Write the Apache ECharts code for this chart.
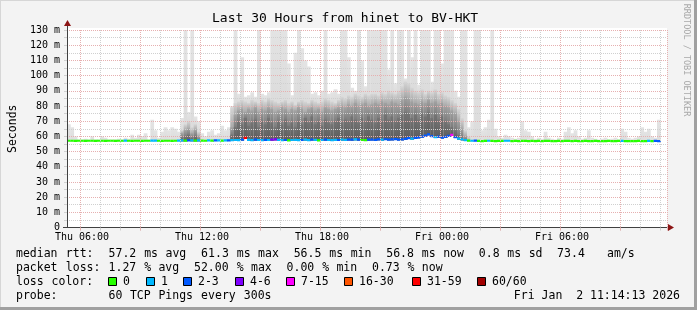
<!DOCTYPE html>
<html><head><meta charset="utf-8">
<script src="https://cdn.jsdelivr.net/npm/echarts@6/dist/echarts.min.js"></script>
<style>html,body{margin:0;padding:0;background:#f3f3f3}#c{width:697px;height:310px}</style>
</head><body><div id="c"></div>
<script>
// ---- time slots: 10-minute steps starting Thu 05:20 (180 slots = 30 h) ----
const slotStartMinutes = 5 * 60 + 20;
const slotMinutes = 10;
const slotCount = 180;

// ---- median RTT (ms) per slot ----
const medianMs = [
 57.1,57.1,57.0,57.1,57.1,57.0,57.1,57.1,57.0,57.1,
 57.1,57.0,57.1,57.1,57.0,57.1,57.1,57.2,57.1,57.0,
 57.1,57.1,57.0,57.1,57.1,57.2,57.2,57.1,57.0,57.1,
 57.1,57.0,57.1,57.2,57.3,57.2,57.4,57.3,57.2,57.3,
 57.2,57.1,57.3,57.2,57.4,57.3,57.2,57.3,57.4,57.5,
 57.6,57.5,57.8,59.0,57.7,57.5,57.8,57.6,57.5,57.7,
 57.6,57.8,58.0,57.7,57.5,57.6,57.4,57.6,57.7,57.5,
 57.6,57.8,57.5,57.9,57.7,57.4,57.6,57.8,57.6,57.5,
 57.7,57.6,57.8,57.7,57.9,57.8,58.0,57.8,57.6,57.5,
 57.8,57.9,57.7,58.0,57.8,58.1,57.9,58.0,58.2,57.9,
 58.0,58.3,58.8,58.5,59.0,59.3,59.8,60.5,61.3,60.2,
 59.5,59.8,59.2,59.6,60.3,61.0,59.4,58.5,58.0,57.5,
 57.2,57.1,57.2,57.0,56.9,57.0,57.1,57.0,56.9,57.0,
 57.0,57.1,57.1,56.9,57.0,56.9,57.0,57.0,56.9,57.0,
 56.9,57.0,56.9,57.0,57.0,56.9,56.9,57.0,56.9,57.0,
 57.0,56.9,57.0,56.9,56.9,57.0,56.9,56.9,57.0,56.9,
 56.9,56.9,57.0,56.9,56.9,57.0,57.0,56.9,56.9,56.9,
 56.9,57.0,56.9,56.9,57.0,56.9,57.0,56.8,null,null
];

// ---- lost pings (of 60) per slot ----
const lostPings = [
 0,0,0,0,0,0,0,0,0,0,
 0,0,0,0,0,0,0,1,0,0,
 0,0,0,0,0,1,1,0,0,0,
 0,0,0,1,1,0,2,1,0,1,
 0,0,1,0,2,1,0,1,2,1,
 1,1,2,31,1,1,2,1,1,2,
 1,4,5,1,1,2,0,1,1,1,
 2,1,1,3,1,0,1,2,1,1,
 1,2,1,1,2,3,1,2,0,0,
 2,2,2,2,1,2,3,2,2,2,
 2,3,2,1,2,2,3,2,2,2,
 1,2,2,3,2,8,2,1,1,1,
 0,1,2,0,0,0,1,0,0,0,
 0,1,1,0,0,0,0,0,0,0,
 0,0,0,0,0,0,0,0,0,0,
 0,0,0,0,0,0,0,0,0,0,
 0,0,0,0,0,0,1,0,0,0,
 0,0,0,0,1,0,2,2,null,null
];

// ---- highest ping (ms) per slot (light smoke) ----
const maxMs = [
 68,66,60,58,58,58.5,58,60,58,58,
 60,59,58,58,58,58.5,58,59,58.5,61,
 59,61,60,62,58,71,64,59,63,66,
 64,66,65,63,72,135,76,135,73,70,
 62,60,63,64,61,62,67,64,66,80,
 135,88,112,86,87,89,86,135,88,87,
 89,135,135,135,135,135,108,87,115,135,
 118,110,106,88,89,87,90,135,88,89,
 91,88,135,135,112,92,90,135,110,93,
 135,135,135,135,135,135,104,135,95,135,
 135,98,135,112,135,94,135,135,135,96,
 135,135,108,135,135,135,90,86,135,135,
 66,70,135,135,64,66,71,135,65,60,
 59,61,60,59,58.5,59,70,64,63,60,
 58.5,59,58.5,63,59,58.5,58,59,58.5,63,
 66,62,64,60,58.5,59,64,59,58.5,58,
 58.5,59,58,58.5,59,58,65,63,59,58.5,
 59,60,66,63,65,60,59,71,null,null
];

// ---- upper smoke edge (ms) per slot ----
const smokeTopMs = [
 null,null,null,null,null,null,null,null,null,null,
 null,null,null,null,null,null,null,null,null,null,
 null,null,null,null,null,null,null,null,null,null,
 null,null,null,null,64,68,70,66,68,63,
 null,null,null,null,null,null,null,null,null,79,
 82,83,84,83,82,84,83,82,84,83,
 85,84,83,82,83,84,82,83,81,83,
 84,83,82,84,83,82,83,85,84,83,
 82,84,86,85,87,86,88,87,86,88,
 87,88,88,87,89,88,90,89,88,90,
 93,96,95,92,90,89,91,88,90,89,
 91,88,89,87,86,84,82,78,72,64,
 60,null,null,null,null,null,null,null,null,null,
 null,null,null,null,null,null,null,null,null,null,
 null,null,null,null,null,null,null,null,null,null,
 null,null,null,null,null,null,null,null,null,null,
 null,null,null,null,null,null,null,null,null,null,
 null,null,null,null,null,null,null,null,null,null
];

// ---- middle smoke edge (ms) per slot ----
const smokeMidMs = [
 null,null,null,null,null,null,null,null,null,null,
 null,null,null,null,null,null,null,null,null,null,
 null,null,null,null,null,null,null,null,null,null,
 null,null,null,null,62,64,65,62,64,60,
 null,null,null,null,null,null,null,null,null,66,
 74,77,78,76,78,77,79,76,78,77,
 79,78,76,77,79,78,76,78,77,79,
 78,76,78,79,77,78,76,79,78,77,
 78,79,80,79,81,80,82,80,81,82,
 80,81,82,81,83,82,81,83,82,81,
 84,86,85,83,82,81,83,82,84,82,
 83,81,82,80,79,77,75,70,65,60,
 null,null,null,null,null,null,null,null,null,null,
 null,null,null,null,null,null,null,null,null,null,
 null,null,null,null,null,null,null,null,null,null,
 null,null,null,null,null,null,null,null,null,null,
 null,null,null,null,null,null,null,null,null,null,
 null,null,null,null,null,null,null,null,null,null
];

// ---- dense (dark) smoke edge (ms) per slot ----
const smokeDarkMs = [
 null,null,null,null,null,null,null,null,null,null,
 null,null,null,null,null,null,null,null,null,null,
 null,null,null,null,null,null,null,null,null,null,
 null,null,null,null,59,60,61,59,60,58,
 null,null,null,null,null,null,null,null,null,61,
 66,70,68,72,67,69,71,66,70,68,
 72,69,66,70,68,71,67,69,66,70,
 68,72,69,73,68,70,67,71,69,68,
 70,72,69,71,70,73,71,69,72,70,
 73,71,69,72,70,74,71,73,70,72,
 74,76,75,72,74,71,75,73,76,72,
 74,71,73,70,68,66,64,61,59,58,
 null,null,null,null,null,null,null,null,null,null,
 null,null,null,null,null,null,null,null,null,null,
 null,null,null,null,null,null,null,null,null,null,
 null,null,null,null,null,null,null,null,null,null,
 null,null,null,null,null,null,null,null,null,null,
 null,null,null,null,null,null,null,null,null,null
];

// ---- y tick labels ----
const yTickValues = [0,10,20,30,40,50,60,70,80,90,100,110,120,130];

// ---- loss colour legend ----
const lossBins = [
  {label:'0',     lo:0,  hi:0,  color:'#26ff00'},
  {label:'1',     lo:1,  hi:1,  color:'#00b8ff'},
  {label:'2-3',   lo:2,  hi:3,  color:'#0059ff'},
  {label:'4-6',   lo:4,  hi:6,  color:'#7e00ff'},
  {label:'7-15',  lo:7,  hi:15, color:'#ff00ff'},
  {label:'16-30', lo:16, hi:30, color:'#ff5500'},
  {label:'31-59', lo:31, hi:59, color:'#ff0000'},
  {label:'60/60', lo:60, hi:60, color:'#a10000'}
];

const titleText = 'Last 30 Hours from hinet to BV-HKT';
const statRows = [
  'median rtt:  57.2 ms avg  61.3 ms max  56.5 ms min  56.8 ms now  0.8 ms sd  73.4   am/s',
  'packet loss: 1.27 % avg  52.00 % max  0.00 % min  0.73 % now'
];
const probeRow = 'probe:       60 TCP Pings every 300s';
const dateText = 'Fri Jan  2 11:14:13 2026';
const sideText = 'RRDTOOL / TOBI OETIKER';

// ---------------- build ----------------
const MONO = "'DejaVu Sans Mono', monospace";
const categories = [];
for (let i = 0; i < slotCount; i++) {
  const m = slotStartMinutes + i * slotMinutes;
  const day = m >= 1440 ? 'Fri' : 'Thu';
  const h = Math.floor(m / 60) % 24, mm = m % 60;
  categories.push(day + ' ' + String(h).padStart(2,'0') + ':' + String(mm).padStart(2,'0'));
}
const hourOf = v => parseInt(v.slice(4,6),10);
const minOf = v => parseInt(v.slice(7,9),10);

function lossColor(n) {
  for (const b of lossBins) if (n >= b.lo && n <= b.hi) return b.color;
  return lossBins[0].color;
}

const data = categories.map((c, i) => [i, medianMs[i], maxMs[i], smokeTopMs[i], smokeMidMs[i], smokeDarkMs[i], lostPings[i]]);

// band shading: [colour at upper edge, colour at lower edge]
const bandShades = {2:['#e4e4e4','#dcdcdc'], 3:['#d6d6d6','#a9a9a9'], 4:['#a2a2a2','#7c7c7c'], 5:['#747474','#5c5c5c']};

function renderItem(params, api) {
  const med = api.value(1);
  if (med == null || isNaN(med)) return null;
  const i = api.value(0);
  const w = api.size([1, 0])[0];
  const cx = api.coord([i, med])[0];
  const x0 = cx - w / 2;
  const yBase = api.coord([i, med - 0.5])[1];
  const children = [];
  const vals = [2,3,4,5].map(d => { const v = api.value(d); return (v != null && !isNaN(v) && v > med) ? v : null; });
  vals.forEach((v, k) => {
    if (v == null) return;
    const d = k + 2;
    const yt = api.coord([i, v])[1];
    let lower = null;
    for (let j = k + 1; j < vals.length; j++) if (vals[j] != null) { lower = vals[j]; break; }
    const yb = lower == null ? yBase : api.coord([i, lower])[1];
    const sh = bandShades[d];
    children.push({type:'rect', shape:{x:x0, y:yt, width:w + 0.4, height:yBase - yt},
      style:{fill: new echarts.graphic.LinearGradient(0, yt, 0, Math.max(yb, yt + 1), [{offset:0, color:sh[0]},{offset:1, color:sh[1]}], true)}});
  });
  const ym = api.coord([i, med])[1];
  children.push({type:'rect', shape:{x:x0, y:ym - 1.1, width:w + 0.4, height:2.2}, style:{fill:lossColor(api.value(6))}});
  return {type:'group', children};
}

const RED = '#e6b0b0';
const GRAY = '#d0d0d0';

const graphics = [
  {type:'rect', z:-10, shape:{x:67, y:28, width:600, height:199.5}, style:{fill:'#ffffff'}},
  {type:'rect', z:10, shape:{x:0, y:0, width:697, height:1}, style:{fill:'#d6d6d6'}},
  {type:'rect', z:10, shape:{x:0, y:0, width:1, height:310}, style:{fill:'#d6d6d6'}},
  {type:'rect', z:10, shape:{x:694, y:0, width:3, height:310}, style:{fill:'#a0a0a0'}},
  {type:'rect', z:10, shape:{x:0, y:307, width:697, height:3}, style:{fill:'#a0a0a0'}},
  {type:'line', z:10, shape:{x1:67.5, y1:30, x2:67.5, y2:25}, style:{stroke:'#404040', lineWidth:1}},
  {type:'line', z:10, shape:{x1:63, y1:227.5, x2:67, y2:227.5}, style:{stroke:'#404040', lineWidth:1}},
  {type:'polygon', z:10, shape:{points:[[64,26],[71,26],[67.5,20]]}, style:{fill:'#8c1414'}},
  {type:'polygon', z:10, shape:{points:[[668,224],[668,231],[674,227.5]]}, style:{fill:'#8c1414'}},
  {type:'text', z:10, x:686.5, y:60, rotation:-Math.PI/2, style:{text:sideText, font:"8.5px 'DejaVu Sans Mono'", fill:'#a8a8a8', align:'center', verticalAlign:'middle'}}
];

const CW = 7.12, X0 = 16;
const rowY = [254, 268, 282, 296];
function addTokens(str, y) {
  const re = /\S+/g; let m;
  while ((m = re.exec(str))) {
    graphics.push({type:'text', z:10, x:X0 + m.index * CW, y:y, style:{text:m[0], font:"11.5px 'DejaVu Sans Mono'", fill:'#000', verticalAlign:'middle'}});
  }
}
addTokens(statRows[0], rowY[0]);
addTokens(statRows[1], rowY[1]);
addTokens('loss color:', rowY[2]);
addTokens(probeRow, rowY[3]);
graphics.push({type:'text', z:10, x:680, y:rowY[3], style:{text:dateText, font:"11.5px 'DejaVu Sans Mono'", fill:'#000', align:'right', verticalAlign:'middle'}});
const boxX = [108, 146, 183, 235, 286, 344, 412, 477];
lossBins.forEach((b, k) => {
  graphics.push({type:'rect', z:10, shape:{x:boxX[k] + 0.5, y:rowY[2] - 4.5, width:8, height:8}, style:{fill:b.color, stroke:'#000', lineWidth:1}});
  graphics.push({type:'text', z:10, x:boxX[k] + 15, y:rowY[2], style:{text:b.label, font:"11.5px 'DejaVu Sans Mono'", fill:'#000', verticalAlign:'middle'}});
});

const chart = echarts.init(document.getElementById('c'), null, {renderer:'canvas'});
chart.setOption({
  animation: false,
  backgroundColor: '#f3f3f3',
  title: {text:titleText, left:212, top:12, padding:0, textStyle:{fontFamily:MONO, fontSize:13, fontWeight:'normal', color:'#000'}},
  grid: {left:67, top:30, width:600, height:197.5, containLabel:false, outerBoundsMode:'none'},
  xAxis: [
    {type:'category', data:categories, boundaryGap:true, z:5,
     axisLine:{show:true, lineStyle:{color:'#404040', width:1}},
     axisTick:{show:true, length:3, interval:(i,v)=>minOf(v)===0, lineStyle:{color:GRAY}},
     axisLabel:{interval:(i,v)=>minOf(v)===0 && hourOf(v)%6===0, margin:5, fontFamily:MONO, fontSize:10, color:'#000'},
     splitLine:{show:true, interval:(i,v)=>minOf(v)===0 && hourOf(v)%3!==0, lineStyle:{color:GRAY, type:[1,1]}}},
    {type:'category', data:categories, boundaryGap:true, z:5, position:'bottom',
     axisLine:{show:false}, axisLabel:{show:false},
     axisTick:{show:true, length:3, interval:(i,v)=>minOf(v)===0 && hourOf(v)%3===0, lineStyle:{color:RED}},
     splitLine:{show:true, interval:(i,v)=>minOf(v)===0 && hourOf(v)%3===0, lineStyle:{color:RED, type:[1,1]}}}
  ],
  yAxis: {type:'value', min:0, max:130, interval:5, z:5,
    name:'Seconds', nameLocation:'middle', nameRotate:90, nameGap:48,
    nameTextStyle:{fontFamily:MONO, fontSize:11.5, color:'#000'},
    axisLine:{show:true, lineStyle:{color:'#404040', width:1}},
    axisTick:{show:true, length:3, lineStyle:{color:GRAY}},
    axisLabel:{margin:7, fontFamily:MONO, fontSize:10, color:'#000',
      formatter: v => yTickValues.indexOf(v) < 0 ? '' : (v === 0 ? '0' : v + ' m')},
    splitLine:{show:true, lineStyle:{color:[RED, GRAY], type:[1,1]}}
  },
  graphic: graphics,
  series: [{
    type:'custom', renderItem, clip:true, data,
    encode:{x:0, y:1}, z:2
  }]
});
</script></body></html>
